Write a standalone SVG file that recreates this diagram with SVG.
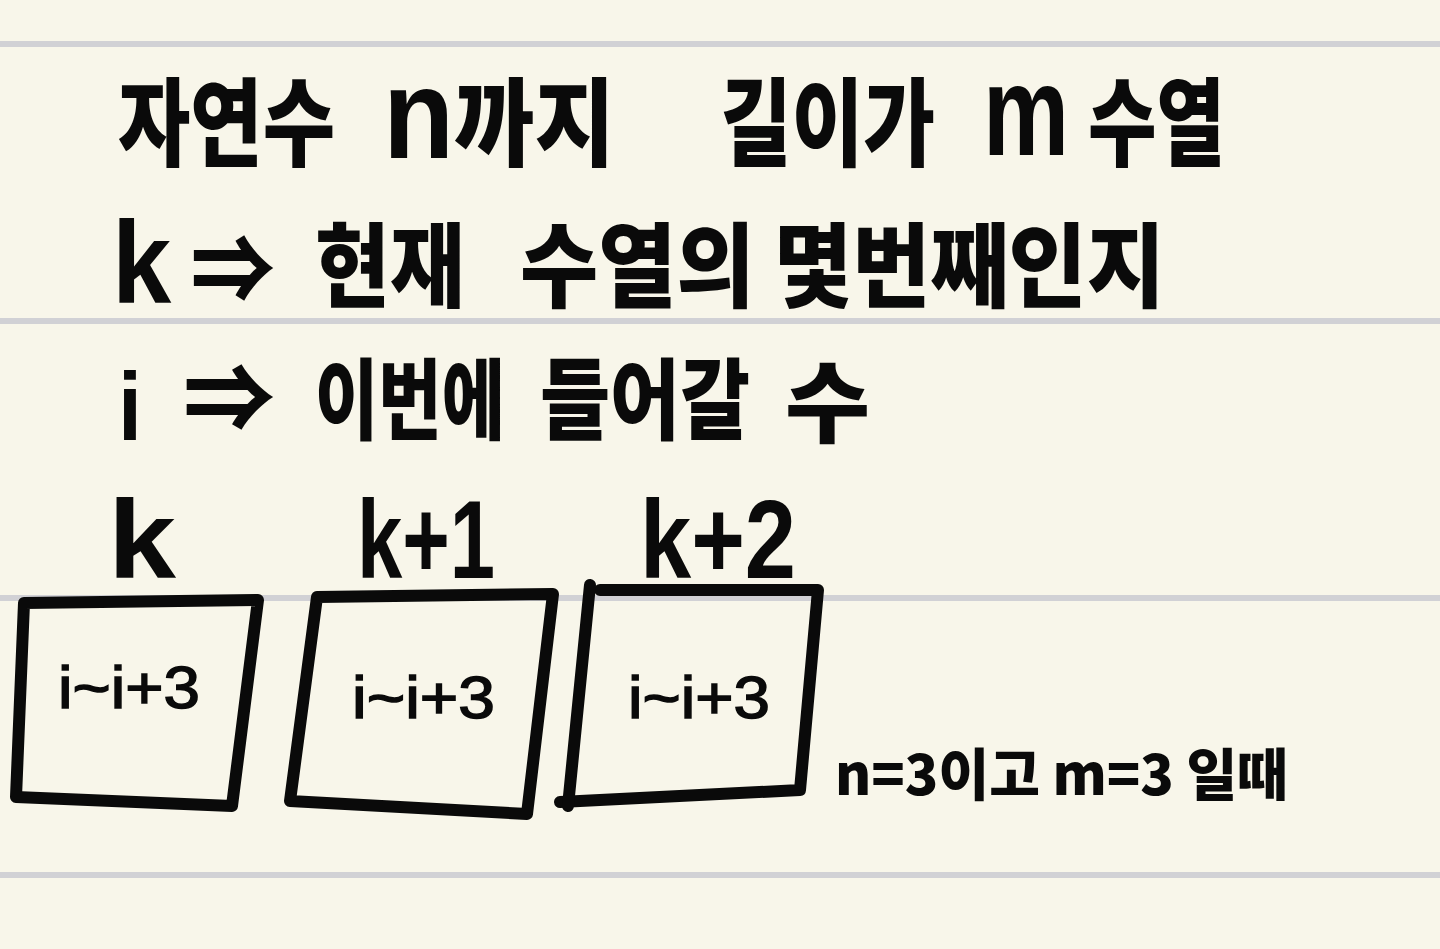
<svg xmlns="http://www.w3.org/2000/svg" width="1440" height="949" viewBox="0 0 1440 949">
<style>
.rule{stroke:#d1d1d5;stroke-width:6}
.t{font-family:"Noto Sans CJK KR","Noto Sans",sans-serif;font-weight:900;fill:#0a0a0a}
.l{font-family:"Liberation Sans",Arial,sans-serif;font-weight:700;fill:#0a0a0a}
.s{font-family:"Liberation Sans",Arial,sans-serif;font-weight:400;fill:#0a0a0a;stroke:#0a0a0a;stroke-width:1.5}
.box{fill:none;stroke:#0a0a0a;stroke-width:12;stroke-linecap:round;stroke-linejoin:round}
</style>
<rect width="1440" height="949" fill="#f8f6ea"/>
<g id="paper-lines">
<line class="rule" x1="0" y1="44" x2="1440" y2="44"/>
<line class="rule" x1="0" y1="321" x2="1440" y2="321"/>
<line class="rule" x1="0" y1="598" x2="1440" y2="598"/>
<line class="rule" x1="0" y1="875" x2="1440" y2="875"/>
</g>
<g id="line1">
<text class="t" x="118" y="158" font-size="96" textLength="217" lengthAdjust="spacingAndGlyphs">자연수</text>
<text class="t" x="383" y="158" font-size="96" textLength="232" lengthAdjust="spacingAndGlyphs"><tspan class="l" font-size="128">n</tspan>까지</text>
<text class="t" x="720" y="158" font-size="96" textLength="215" lengthAdjust="spacingAndGlyphs">길이가</text>
<text class="l" x="983" y="155" font-size="128" textLength="86" lengthAdjust="spacingAndGlyphs">m</text>
<text class="t" x="1088" y="158" font-size="96" textLength="137" lengthAdjust="spacingAndGlyphs">수열</text>
</g>
<g id="line2">
<text class="t" x="112" y="303" font-size="92" textLength="163" lengthAdjust="spacingAndGlyphs"><tspan class="l" font-size="116">k</tspan> ⇒</text>
<text class="t" x="315" y="300" font-size="92" textLength="150" lengthAdjust="spacingAndGlyphs">현재</text>
<text class="t" x="520" y="300" font-size="92" textLength="645" lengthAdjust="spacingAndGlyphs">수열의 몇번째인지</text>
</g>
<g id="line3">
<text class="l" x="118" y="440" font-size="96" textLength="24" lengthAdjust="spacingAndGlyphs">i</text>
<text class="t" x="183" y="432" font-size="92" textLength="92" lengthAdjust="spacingAndGlyphs">⇒</text>
<text class="t" x="315" y="432" font-size="88" textLength="190" lengthAdjust="spacingAndGlyphs">이번에</text>
<text class="t" x="540" y="432" font-size="88" textLength="210" lengthAdjust="spacingAndGlyphs">들어갈</text>
<text class="t" x="785" y="435" font-size="88" textLength="85" lengthAdjust="spacingAndGlyphs">수</text>
</g>
<g id="node-k">
<text class="l" x="108" y="578" font-size="112" textLength="68" lengthAdjust="spacingAndGlyphs">k</text>
<polyline class="box" points="24,603 258,600 232,806 16,797 24,603"/>
<text class="s" x="58" y="708" font-size="60" textLength="142" lengthAdjust="spacingAndGlyphs">i~i+3</text>
</g>
<g id="node-k1">
<text class="l" x="357" y="578" font-size="112" textLength="138" lengthAdjust="spacingAndGlyphs">k+1</text>
<polyline class="box" points="317,597 553,594 527,814 290,801 317,597"/>
<text class="s" x="352" y="718" font-size="60" textLength="143" lengthAdjust="spacingAndGlyphs">i~i+3</text>
</g>
<g id="node-k2">
<text class="l" x="640" y="578" font-size="112" textLength="156" lengthAdjust="spacingAndGlyphs">k+2</text>
<polyline class="box" points="600,590 818,590 800,790 560,802"/>
<line class="box" x1="568" y1="806" x2="590" y2="585"/>
<text class="s" x="628" y="718" font-size="60" textLength="142" lengthAdjust="spacingAndGlyphs">i~i+3</text>
</g>
<g id="caption">
<text class="t" x="835" y="795" font-size="56" textLength="453" lengthAdjust="spacingAndGlyphs">n=3이고 m=3 일때</text>
</g>
</svg>
